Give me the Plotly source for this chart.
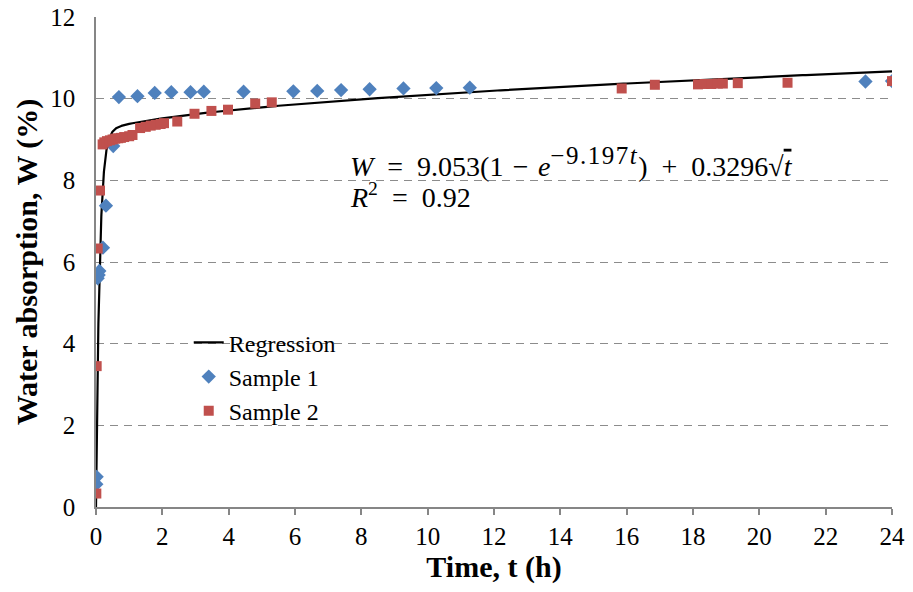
import numpy as np
import plotly.graph_objects as go

# ---- data ----
s1_t = [0.01, 0.02, 0.05, 0.08, 0.10, 0.21, 0.30, 0.52, 0.69, 1.25, 1.77, 2.27,
        2.85, 3.25, 4.45, 5.95, 6.67, 7.39, 8.25, 9.27, 10.26, 11.27, 23.2, 24.0]
s1_w = [0.56, 0.74, 5.60, 5.68, 5.78, 6.35, 7.38, 8.84, 10.04, 10.06, 10.14, 10.16,
        10.16, 10.17, 10.17, 10.18, 10.19, 10.21, 10.23, 10.25, 10.26, 10.27, 10.42, 10.43]

s2_t = [0.01, 0.02, 0.05, 0.12, 0.20, 0.25, 0.33, 0.42, 0.50, 0.58, 0.67, 0.75,
        0.85, 1.00, 1.10, 1.33, 1.50, 1.65, 1.80, 1.95, 2.05, 2.45, 2.97, 3.48,
        3.98, 4.80, 5.30, 15.85, 16.85, 18.15, 18.35, 18.55, 18.75, 18.9, 19.35,
        20.85, 24.0]
s2_w = [0.33, 3.45, 6.33, 7.75, 8.88, 8.93, 8.96, 8.98, 9.00, 9.02, 9.03, 9.04,
        9.06, 9.08, 9.11, 9.28, 9.31, 9.34, 9.36, 9.38, 9.40, 9.44, 9.63, 9.70,
        9.73, 9.88, 9.91, 10.25, 10.34, 10.35, 10.36, 10.36, 10.37, 10.37, 10.38,
        10.39, 10.43]

# regression model W = a(1 - exp(-k t)) + b sqrt(t), coefficients from the chart
reg_a = 9.053
reg_k = 9.197
reg_b = 0.3296
reg_r2 = 0.92

x_ticks = list(range(0, 25, 2))
y_ticks = list(range(0, 13, 2))

reg_t = np.concatenate([np.linspace(0, 1, 401), np.linspace(1, 24, 231)[1:]])
reg_w = reg_a * (1 - np.exp(-reg_k * reg_t)) + reg_b * np.sqrt(reg_t)

FONT = "Liberation Serif"
GRID = "#8c8c8c"
AXIS = "#868686"

fig = go.Figure()
fig.add_trace(go.Scatter(x=reg_t, y=reg_w, mode="lines", name="Regression",
                         line=dict(color="black", width=2.2)))
fig.add_trace(go.Scatter(x=s1_t, y=s1_w, mode="markers", name="Sample 1",
                         marker=dict(symbol="diamond", size=11, color="#4F81BD",
                                     line=dict(width=0))))
fig.add_trace(go.Scatter(x=s2_t, y=s2_w, mode="markers", name="Sample 2",
                         marker=dict(symbol="square", size=10, color="#C0504D",
                                     line=dict(width=0))))

# white boxes behind legend and equation (hide gridlines only)
fig.add_shape(type="rect", xref="paper", yref="paper", x0=0.3065, x1=0.926,
              y0=0.44, y1=0.78, fillcolor="white", line=dict(width=0), layer="between")
fig.add_shape(type="rect", xref="paper", yref="paper", x0=0.040, x1=0.379,
              y0=0.10, y1=0.40, fillcolor="white", line=dict(width=0), layer="between")

SP = "\u2002"   # en space
MS = "\u2004"   # three-per-em space
eq1 = (f"<i>W</i>{SP}={SP}9.053(1{MS}\u2212{MS}<i>e</i>"
       "<sup><span style='font-size:25px;letter-spacing:1.5px'>\u22129.197<i>t</i></span></sup>"
       f"){SP}+{SP}0.3296\u221a<span style='text-decoration:overline'><i>t</i></span>")
eq2 = f"<i>R</i><sup>2</sup>{SP}={SP}{reg_r2:.2f}"
for txt, yy in [(eq1, 0.7047), (eq2, 0.6353)]:
    fig.add_annotation(text=txt, xref="paper", yref="paper", x=0.3166, y=yy,
                       xanchor="left", yanchor="middle", align="left", showarrow=False,
                       font=dict(family=FONT, size=28, color="black"))

# the page body adds an 8px margin, so the figure is kept small enough to fit the window
fig.update_layout(
    width=897, height=576,
    margin=dict(l=88, r=13, t=9, b=77),
    paper_bgcolor="white", plot_bgcolor="white",
    font=dict(family=FONT, color="black"),
    showlegend=True,
    legend=dict(x=0.1165, y=0.381, xanchor="left", yanchor="top",
                bgcolor="rgba(0,0,0,0)", borderwidth=0,
                font=dict(family=FONT, size=24, color="black"),
                itemwidth=30, tracegroupgap=0),
)
fig.update_xaxes(range=[0, 24], tickvals=x_ticks, ticktext=[str(v) for v in x_ticks],
                 automargin=False, ticklabeloverflow="allow",
                 showgrid=False, zeroline=False, showline=True, linecolor=AXIS, linewidth=1.5,
                 ticks="outside", ticklen=6, tickcolor=AXIS, tickwidth=1.5,
                 tickfont=dict(family=FONT, size=25, color="black"),
                 title=dict(text="<b>Time, t (h)</b>", font=dict(family=FONT, size=30, color="black"),
                            standoff=17))
fig.update_yaxes(range=[0, 12], tickvals=y_ticks, ticktext=[str(v) for v in y_ticks],
                 automargin=False, ticklabeloverflow="allow",
                 showgrid=True, gridcolor=GRID, gridwidth=1.3, griddash="8px,6px",
                 zeroline=False, showline=True, linecolor=AXIS, linewidth=1.5,
                 ticks="", ticklabelstandoff=14,
                 tickfont=dict(family=FONT, size=25, color="black"),
                 title=dict(text="<b>Water absorption, W (%)</b>",
                            font=dict(family=FONT, size=30, color="black"), standoff=4))

fig.write_html("out.html")
